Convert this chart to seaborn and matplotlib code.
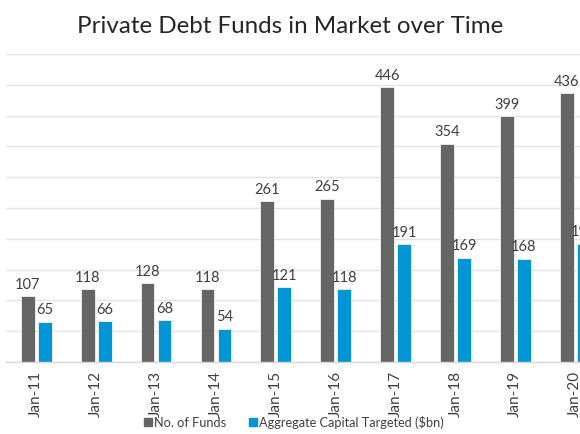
import matplotlib
matplotlib.use("Agg")
import matplotlib.pyplot as plt
import seaborn as sns
import pandas as pd

categories = ["Jan-11", "Jan-12", "Jan-13", "Jan-14", "Jan-15",
              "Jan-16", "Jan-17", "Jan-18", "Jan-19", "Jan-20"]
num_funds = [107, 118, 128, 118, 261, 265, 446, 354, 399, 436]
capital_bn = [65, 66, 68, 54, 121, 118, 191, 169, 168, 192]
series_names = ["No. of Funds", "Aggregate Capital Targeted ($bn)"]
colors = ["#666565", "#0096D6"]

df = pd.DataFrame({
    "date": categories * 2,
    "value": num_funds + capital_bn,
    "series": [series_names[0]] * len(categories) + [series_names[1]] * len(categories),
})

sns.set_theme(style="white")
plt.rcParams["font.family"] = ["Lato", "DejaVu Sans"]

fig = plt.figure(figsize=(5.8, 4.35), dpi=100)
ax = fig.add_axes([0.011, 0.1655, 1.0324, 0.708])

sns.barplot(data=df, x="date", y="value", hue="series", order=categories,
            hue_order=series_names, palette=colors, width=0.568, gap=0.194,
            saturation=1, ax=ax, legend=False, edgecolor="#f2f2f2", linewidth=0.6)

ax.set_ylim(0, 500)
ax.set_xlim(-0.5, len(categories) - 0.5)
ax.set_yticks(range(0, 501, 50))
ax.yaxis.grid(True, color="#e3e3e3", linewidth=1.0)
ax.set_axisbelow(True)
ax.tick_params(axis="y", left=False, labelleft=False)
for s in ["top", "right", "left"]:
    ax.spines[s].set_visible(False)
ax.spines["bottom"].set_color("#d9d9d9")
ax.spines["bottom"].set_linewidth(1.0)

ax.set_xticks(range(len(categories)))
ax.set_xticklabels(categories, rotation=90, fontsize=11, color="#404040")
ax.set_xticks([i - 0.5 for i in range(len(categories) + 1)], minor=True)
ax.tick_params(axis="x", which="major", length=0, pad=6)
ax.tick_params(axis="x", which="minor", length=4, color="#d9d9d9", width=1)
ax.set_xlabel("")
ax.set_ylabel("")

for cont in ax.containers:
    ax.bar_label(cont, labels=[f"{v:.0f}" for v in cont.datavalues],
                 padding=4, fontsize=10.5, color="#404040")

fig.text(0.5, 0.924, "Private Debt Funds in Market over Time", ha="center",
         va="baseline", fontsize=17.4, color="#262626")

handles = [plt.Rectangle((0, 0), 1, 1, color=c) for c in colors]
fig.legend(handles, series_names, loc="center", bbox_to_anchor=(0.507, 0.028),
           ncol=2, frameon=False, fontsize=9.2, handlelength=0.6,
           handleheight=0.6, handletextpad=0.2, columnspacing=1.8,
           labelcolor="#404040")

fig.savefig("out.png", dpi=100)
